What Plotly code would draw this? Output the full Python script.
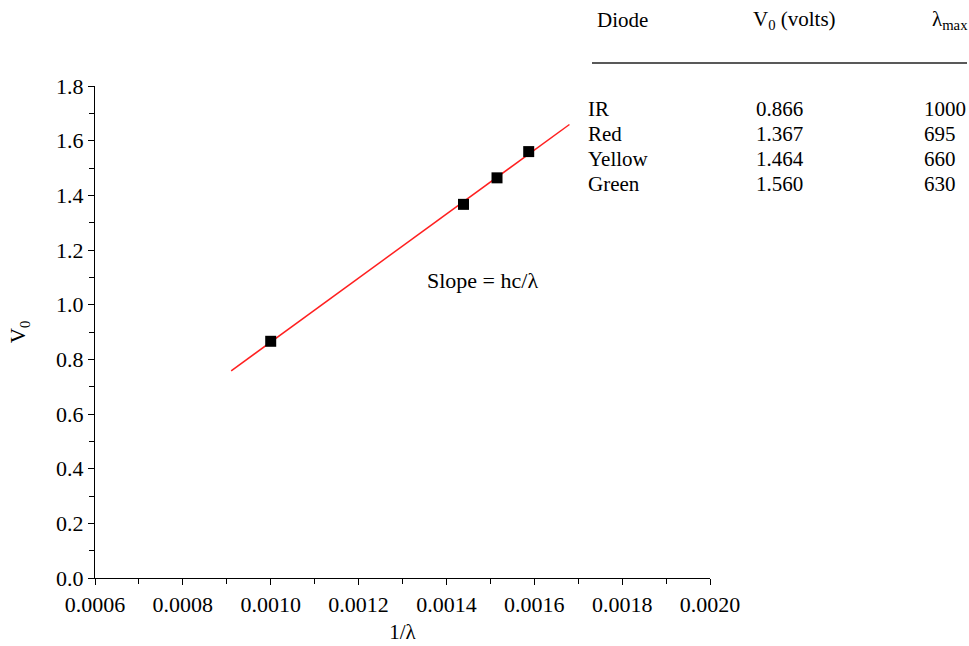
import numpy as np
import plotly.graph_objects as go

diodes = ["IR", "Red", "Yellow", "Green"]
v0 = [0.866, 1.367, 1.464, 1.560]
lam_max = [1000, 695, 660, 630]
fit_range = [0.00091, 0.00168]
x_ticks = [0.0006, 0.0008, 0.0010, 0.0012, 0.0014, 0.0016, 0.0018, 0.0020]
y_ticks = [0.0, 0.2, 0.4, 0.6, 0.8, 1.0, 1.2, 1.4, 1.6, 1.8]

inv_lam = [1.0 / l for l in lam_max]
slope, intercept = np.polyfit(inv_lam, v0, 1)
fx = np.array(fit_range)
fy = slope * fx + intercept

FONT = "Liberation Serif, Times New Roman, serif"
W, H = 969, 646
L, R, T, B = 95, 259, 86, 68

fig = go.Figure()
fig.add_trace(go.Scatter(x=fx, y=fy, mode="lines",
                         line=dict(color="#ff2020", width=1.5), showlegend=False))
fig.add_trace(go.Scatter(x=inv_lam, y=v0, mode="markers",
                         marker=dict(symbol="square", size=11, color="black"),
                         showlegend=False))

def px(xp):
    return (xp - L) / (W - L - R)

def py(yp):
    return (H - B - yp) / (H - T - B)

anns = []
def txt(text, xp, yp, anchor="left", size=21):
    anns.append(dict(text=text, x=px(xp), y=py(yp), xref="paper", yref="paper",
                     xanchor=anchor, yanchor="middle", showarrow=False,
                     font=dict(family=FONT, size=size, color="black")))

txt("Diode", 595, 20)
txt("V<sub>0</sub> (volts)", 751, 20)
txt("λ<sub>max</sub>", 930, 20)
row_y = [109, 134, 159, 184]
for name, v, lm, yy in zip(diodes, v0, lam_max, row_y):
    txt(name, 586, yy)
    txt(f"{v:.3f}", 754, yy)
    txt(str(lm), 922, yy)

anns.append(dict(text="Slope = hc/λ", x=0.001483, y=1.09, xref="x", yref="y",
                 showarrow=False, xanchor="center", yanchor="middle",
                 font=dict(family=FONT, size=22, color="black")))

fig.update_layout(
    width=W, height=H,
    margin=dict(l=L, r=R, t=T, b=B, autoexpand=False),
    paper_bgcolor="white", plot_bgcolor="white",
    font=dict(family=FONT, size=21, color="black"),
    annotations=anns,
    shapes=[dict(type="line", xref="paper", yref="paper",
                 x0=px(592), x1=px(967), y0=py(63), y1=py(63),
                 line=dict(color="#222222", width=1.5))],
    xaxis=dict(range=[0.0006, 0.0020], tickvals=x_ticks,
               ticktext=[f"{v:.4f}" for v in x_ticks],
               tickfont=dict(size=22), automargin=False,
               showgrid=False, zeroline=False, showline=True, linecolor="black",
               linewidth=1.2, ticks="outside", ticklen=6, tickcolor="black",
               minor=dict(dtick=0.0001, ticks="outside", ticklen=5, tickcolor="black"),
               title=dict(text="1/λ", font=dict(size=21), standoff=8)),
    yaxis=dict(range=[0, 1.8], tickvals=y_ticks,
               ticktext=[f"{v:.1f}" for v in y_ticks],
               tickfont=dict(size=22), automargin=False,
               showgrid=False, zeroline=False, showline=True, linecolor="black",
               linewidth=1.2, ticks="outside", ticklen=6, tickcolor="black",
               minor=dict(dtick=0.1, ticks="outside", ticklen=5, tickcolor="black"),
               title=dict(text="V<sub>0</sub>", font=dict(size=21), standoff=24)),
)

fig.write_html("out.html", config={"displayModeBar": False},
               post_script="document.body.style.margin='0';document.body.style.overflow='hidden';")
